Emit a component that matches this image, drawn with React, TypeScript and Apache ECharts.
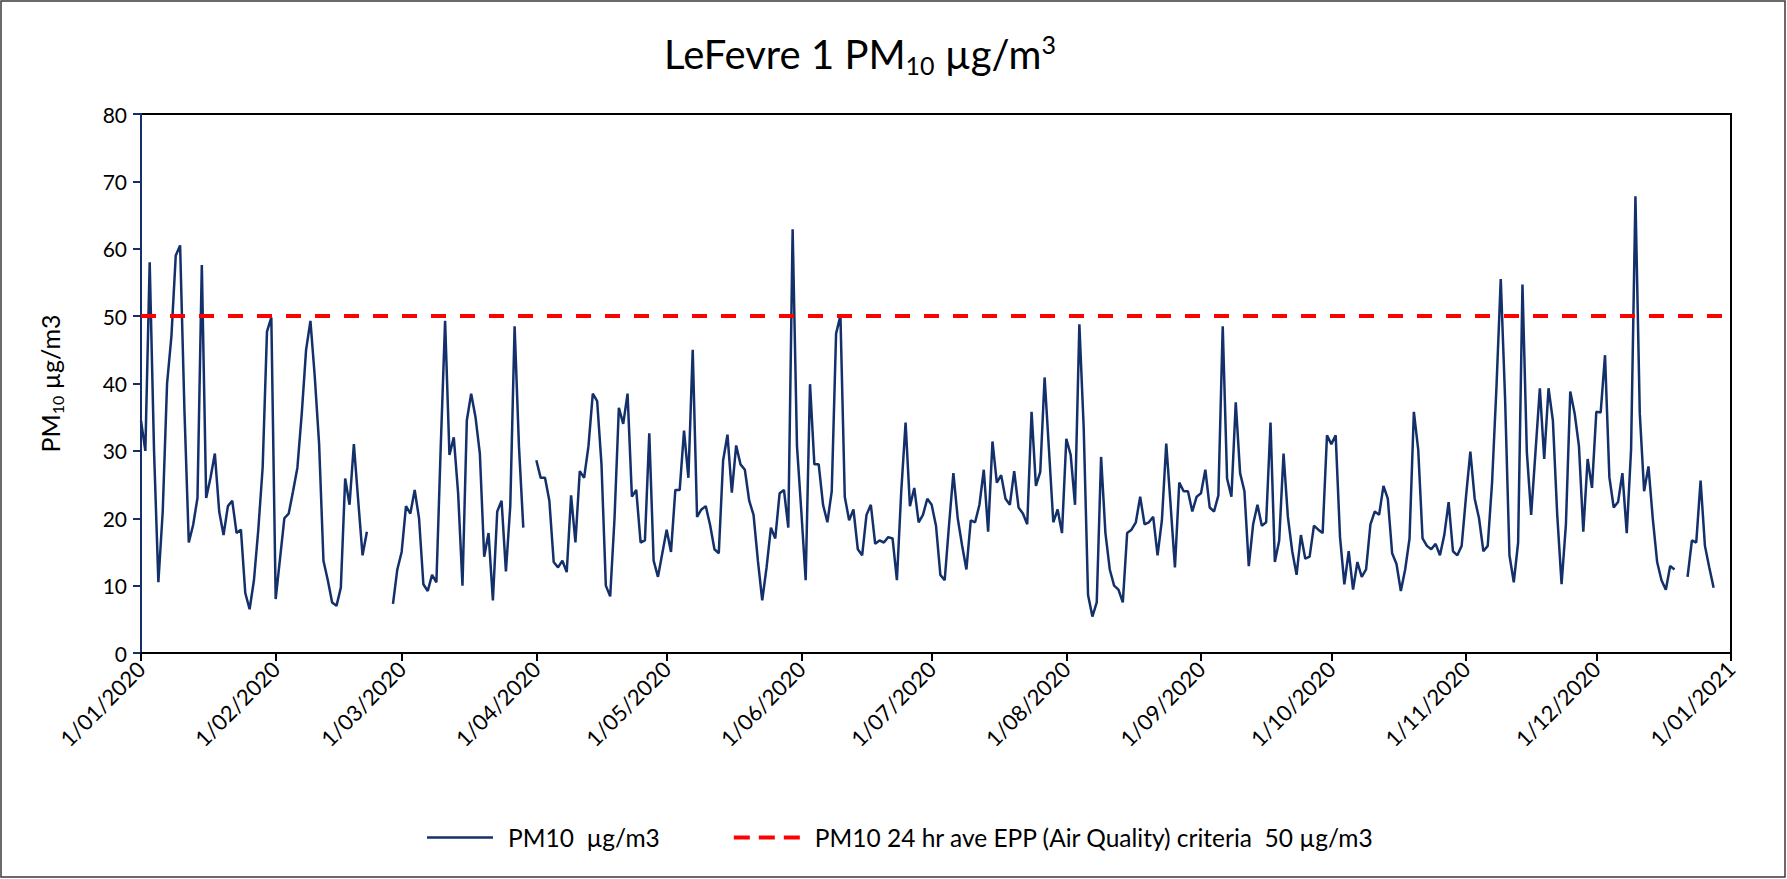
import React, { useEffect, useRef } from "react";
import * as echarts from "echarts";

// Daily PM10 (µg/m3) for 2020, one array per month (null = no data)
const JAN = [34.5, 30, 58, 30, 10.5, 21, 40, 47, 59, 60.5, 36, 16.4, 19, 23, 57.6, 23, 26, 29.6, 21, 17.5, 21.8, 22.6, 17.8, 18.3, 8.9, 6.5, 10.8, 18.3, 27.5, 47.7, 49.8];
const FEB = [8, 14, 20, 20.7, 24, 27.5, 35.5, 45, 49.3, 41, 31, 13.7, 10.8, 7.5, 7, 9.7, 25.9, 22, 31, 22.6, 14.5, 18, null, null, null, null, null, 7.3, 12.4];
const MAR = [15, 21.8, 20.7, 24.2, 20, 10.2, 9.2, 11.6, 10.5, 30.7, 49.3, 29.4, 32, 23.7, 10, 34.5, 38.5, 35, 29.6, 14.3, 17.8, 7.8, 21, 22.6, 12.1, 21.8, 48.5, 30.7, 18.6, null, null];
const APR = [28.6, 26, 26, 22.6, 13.5, 12.7, 13.7, 12, 23.4, 16.4, 27, 26, 30.7, 38.5, 37.4, 28, 10, 8.4, 20, 36.4, 34, 38.5, 23.2, 24.2, 16.4, 16.7, 32.6, 13.7, 11.3, 14.8];
const MAY = [18.3, 15, 24.2, 24.2, 33, 26, 45, 20.2, 21.3, 21.8, 19, 15.4, 14.8, 28.6, 32.4, 23.8, 30.8, 28, 27.2, 22.6, 20.5, 13.7, 7.8, 12.7, 18.6, 17, 23.7, 24.2, 18.6, 62.9, 30.7];
const JUN = [21, 10.8, 39.9, 28, 28, 22, 19.4, 24, 47.4, 50.1, 23.2, 19.7, 21.3, 15.4, 14.5, 20.5, 22, 16.2, 16.7, 16.4, 17.2, 17, 10.8, 24, 34.2, 21.8, 24.5, 19.4, 20.5, 22.9];
const JUL = [22, 18.9, 11.6, 10.8, 19, 26.7, 20, 16, 12.4, 19.7, 19.4, 22, 27.2, 18, 31.4, 25.3, 26.4, 22.9, 22, 27, 21.6, 20.7, 19.1, 35.8, 24.8, 26.9, 40.9, 30.2, 19.4, 21.3, 17.8];
const AUG = [31.8, 29.4, 22, 48.8, 33.4, 8.6, 5.4, 7.5, 29.1, 17.8, 12.4, 10, 9.4, 7.5, 17.8, 18.3, 19.4, 23.2, 19.1, 19.4, 20.2, 14.5, 19.7, 31.1, 22, 12.7, 25.3, 24, 24, 21, 23.2];
const SEP = [23.7, 27.2, 21.6, 21, 23.4, 48.5, 25.9, 23.2, 37.2, 26.7, 24, 12.9, 19.1, 22, 18.9, 19.4, 34.2, 13.5, 16.7, 29.6, 20.2, 15.1, 11.6, 17.5, 14, 14.3, 18.9, 18.3, 17.8, 32.3];
const OCT = [31, 32.3, 17.2, 10.2, 15.1, 9.4, 13.5, 11.3, 12.4, 19.1, 21, 20.5, 24.8, 22.9, 14.8, 13.2, 9.2, 12.4, 17, 35.8, 30.2, 17, 15.9, 15.4, 16.2, 14.5, 17.5, 22.4, 15.1, 14.5, 15.9];
const NOV = [23.2, 29.9, 22.9, 20, 15.1, 15.9, 25.3, 39.3, 55.5, 37.7, 14.5, 10.5, 16.4, 54.7, 29.9, 20.5, 29.9, 39.3, 28.8, 39.3, 34.5, 20.5, 10.2, 19.1, 38.8, 35.6, 30.7, 18, 28.8, 24.5];
const DEC = [35.8, 35.7, 44.2, 26.1, 21.6, 22.4, 26.7, 17.8, 30.2, 67.8, 35.6, 24, 27.7, 19.9, 13.5, 10.8, 9.4, 12.9, 12.4, null, null, 11.3, 16.7, 16.4, 25.6, 15.9, 12.7, 9.7, null, null, null];

const MONTHS = [JAN, FEB, MAR, APR, MAY, JUN, JUL, AUG, SEP, OCT, NOV, DEC];
const YEAR = 2020;
const END_LABEL = "1/01/2021";
const CRITERIA = 50;
const SERIES_NAME = "PM10  µg/m3";
const CRITERIA_NAME = "PM10 24 hr ave EPP (Air Quality) criteria  50 µg/m3";

const FONT = "Lato, 'Open Sans', sans-serif";
const NAVY = "#14306b";
const RED = "#ff0000";

function buildCategories(): string[] {
  const out: string[] = [];
  MONTHS.forEach((arr, m) => {
    for (let d = 1; d <= arr.length; d++) {
      out.push(`${d}/${String(m + 1).padStart(2, "0")}/${YEAR}`);
    }
  });
  out.push(END_LABEL);
  return out;
}

function buildValues(): (number | null)[] {
  const out: (number | null)[] = [];
  MONTHS.forEach((arr) => arr.forEach((v) => out.push(v)));
  out.push(null);
  return out;
}

export default function App() {
  const ref = useRef<HTMLDivElement>(null);

  useEffect(() => {
    document.body.style.margin = "0";
    if (!ref.current) return;
    const chart = echarts.init(ref.current, undefined, { renderer: "svg" });
    const categories = buildCategories();
    const values = buildValues();
    const isMonthStart = (_i: number, v: string) => v.startsWith("1/");

    chart.setOption({
      animation: false,
      backgroundColor: "#ffffff",
      textStyle: { fontFamily: FONT },
      graphic: [
        {
          type: "rect",
          shape: { x: 1, y: 1, width: 1784, height: 876 },
          style: { fill: "none", stroke: "#3a3a3a", lineWidth: 1.5 },
          silent: true,
        },
        {
          type: "text",
          x: 860,
          y: 54,
          silent: true,
          style: {
            text: "{a|LeFevre 1 PM}{s|10}{a| µg/m}{p|3}",
            align: "center",
            verticalAlign: "middle",
            rich: {
              a: { fontSize: 40, fontFamily: FONT, fill: "#000", lineHeight: 46 },
              s: { fontSize: 25, fontFamily: FONT, fill: "#000", lineHeight: 18, verticalAlign: "bottom" },
              p: { fontSize: 25, fontFamily: FONT, fill: "#000", lineHeight: 18, verticalAlign: "top" },
            },
          },
        },
      ],
      grid: {
        left: 141,
        right: 56,
        top: 114,
        bottom: 226,
        show: true,
        borderColor: "#000",
        borderWidth: 2,
        backgroundColor: "transparent",
      },
      legend: {
        left: 422,
        top: 820,
        itemWidth: 66,
        itemHeight: 4,
        itemGap: 74,
        textStyle: { fontSize: 24.5, color: "#000", fontFamily: FONT, padding: [0, 0, 0, 10] },
        data: [
          { name: SERIES_NAME, icon: "path://M0,0H66V2.6H0Z" },
          { name: CRITERIA_NAME, icon: "path://M0,0H16V4H0Z M25,0H41V4H25Z M50,0H66V4H50Z" },
        ],
      },
      xAxis: {
        type: "category",
        data: categories,
        boundaryGap: false,
        axisLine: { lineStyle: { color: "#000", width: 2 } },
        axisTick: { show: true, interval: isMonthStart, length: 8, lineStyle: { color: "#000", width: 2 } },
        axisLabel: {
          interval: isMonthStart,
          rotate: 45,
          fontSize: 22,
          color: "#000",
          fontFamily: FONT,
          margin: 12,
        },
        splitLine: { show: false },
      },
      yAxis: {
        type: "value",
        min: 0,
        max: 80,
        interval: 10,
        name: "{a|PM}{s|10}{a| µg/m3}",
        nameLocation: "middle",
        nameGap: 76,
        nameRotate: 90,
        nameTextStyle: {
          rich: {
            a: { fontSize: 25, fontFamily: FONT, color: "#000", lineHeight: 30 },
            s: { fontSize: 16, fontFamily: FONT, color: "#000", lineHeight: 12, verticalAlign: "bottom" },
          },
        },
        axisLine: { show: true, lineStyle: { color: NAVY, width: 2 } },
        axisTick: { show: true, length: 8, lineStyle: { color: NAVY, width: 2 } },
        axisLabel: { fontSize: 21, color: "#000", fontFamily: FONT, margin: 14 },
        splitLine: { show: false },
      },
      series: [
        {
          name: SERIES_NAME,
          type: "line",
          data: values,
          showSymbol: false,
          symbol: "none",
          connectNulls: false,
          lineStyle: { color: NAVY, width: 2.5 },
          itemStyle: { color: NAVY },
          z: 2,
        },
        {
          name: CRITERIA_NAME,
          type: "line",
          data: [],
          symbol: "none",
          lineStyle: { color: RED, width: 4, type: [15, 14] },
          itemStyle: { color: RED },
          markLine: {
            silent: true,
            symbol: "none",
            label: { show: false },
            lineStyle: { color: RED, width: 4, type: [15, 14] },
            data: [{ yAxis: CRITERIA }],
          },
          z: 3,
        },
      ],
    });

    return () => chart.dispose();
  }, []);

  return <div ref={ref} style={{ width: 1787, height: 879 }} />;
}
